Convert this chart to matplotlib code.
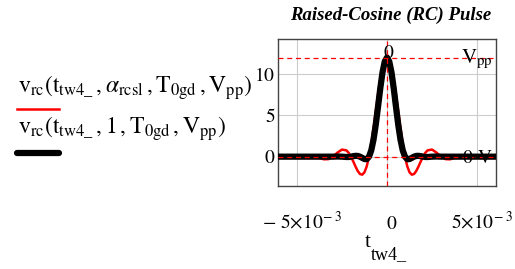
import matplotlib
matplotlib.use("Agg")
from matplotlib import pyplot as plt
from matplotlib.lines import Line2D
from matplotlib.transforms import ScaledTranslation
import numpy as np

plt.rcParams["mathtext.fontset"] = "stix"
plt.rcParams["font.family"] = ["Liberation Serif", "DejaVu Serif"]

# time axis in ms
t_ms = [-6.1, -5.5, -5, -4.75, -4.5, -4.25, -4, -3.75, -3.5, -3.25, -3, -2.75,
        -2.5, -2.25, -2.125, -2, -1.875, -1.75, -1.625, -1.5, -1.375, -1.25,
        -1.125, -1, -0.875, -0.75, -0.625, -0.5, -0.375, -0.25, -0.125,
        0,
        0.125, 0.25, 0.375, 0.5, 0.625, 0.75, 0.875, 1, 1.125, 1.25, 1.375,
        1.5, 1.625, 1.75, 1.875, 2, 2.125, 2.25, 2.5, 2.75, 3, 3.25, 3.5,
        3.75, 4, 4.25, 4.5, 4.75, 5, 5.5, 6.1]

# v_rc(t, alpha_rcsl, T0gd, Vpp) - red
v_rcsl = [0, 0.03, 0, 0.02, 0.06, 0.08, 0, -0.16, -0.32, -0.30, 0, 0.49,
          0.86, 0.76, 0.46, 0, -0.57, -1.18, -1.73, -2.10, -2.18, -1.89,
          -1.17, 0, 1.57, 3.43, 5.46, 7.48, 9.30, 10.75, 11.68,
          12,
          11.68, 10.75, 9.30, 7.48, 5.46, 3.43, 1.57, 0, -1.17, -1.89, -2.18,
          -2.10, -1.73, -1.18, -0.57, 0, 0.46, 0.76, 0.86, 0.49, 0, -0.30,
          -0.32, -0.16, 0, 0.08, 0.06, 0.02, 0, 0.03, 0]

# v_rc(t, 1, T0gd, Vpp) - black
v_one = [0, 0, 0, 0, 0, 0, 0, 0, 0, 0, 0, 0.02,
         0, -0.04, -0.04, 0, 0.06, 0.10, 0.09, 0, -0.15, -0.29,
         -0.30, 0, 0.75, 2.04, 3.84, 6.00, 8.23, 10.19, 11.52,
         12,
         11.52, 10.19, 8.23, 6.00, 3.84, 2.04, 0.75, 0, -0.30, -0.29, -0.15,
         0, 0.09, 0.10, 0.06, 0, -0.04, -0.04, 0, 0.02, 0, 0,
         0, 0, 0, 0, 0, 0, 0, 0, 0]

v_pp = 12
x_ticks = [-5e-3, 0, 5e-3]
x_tick_labels = [r"$-\ 5{\times}10^{-\ 3}$", r"$0$", r"$5{\times}10^{-\ 3}$"]
y_ticks = [0, 5, 10]

W, H = 515, 269


def px(x, y):
    return x / W, 1 - y / H


t = np.array(t_ms) * 1e-3

fig = plt.figure(figsize=(W / 100, H / 100), dpi=100)
ax = fig.add_axes([278 / W, 1 - 186 / H, 218 / W, 147.5 / H])

ax.plot(t, v_rcsl, color="red", lw=1.8, zorder=3)
ax.plot(t, v_one, color="black", lw=4.5, zorder=4, solid_capstyle="butt")

# markers
mk = dict(color="red", lw=0.9, ls=(0, (4, 3)), zorder=5)
ax.axhline(v_pp, **mk)
ax.axhline(0, **mk)
ax.axvline(0, **mk)

ax.text(0.12e-3, 12.5, "$0$", fontsize=14, ha="center", va="center", zorder=6)
ax.text(5.85e-3, 11.35, r"$\mathrm{V}_{\mathrm{pp}}$", fontsize=15,
        ha="right", va="baseline", zorder=6)
ax.text(5.85e-3, -0.77, r"$0{\cdot}\mathrm{V}$", fontsize=14,
        ha="right", va="baseline", zorder=6)

ax.set_xlim(-6.05e-3, 6.05e-3)
ax.set_ylim(-3.55, 14.3)
ax.set_xticks(x_ticks)
ax.set_xticklabels(x_tick_labels)
ax.set_yticks(y_ticks)
ax.set_yticklabels([f"${v}$" for v in y_ticks])
ax.tick_params(length=0, labelsize=14)
ax.tick_params(axis="x", pad=31)
ax.tick_params(axis="y", pad=2)
shift = ScaledTranslation(5 / 100, 0, fig.dpi_scale_trans)
for lbl in ax.get_xticklabels():
    lbl.set_verticalalignment("baseline")
    lbl.set_transform(lbl.get_transform() + shift)
ax.grid(True, color="#cccccc", lw=0.8, zorder=0)
for s in ax.spines.values():
    s.set_color("#444444")
    s.set_linewidth(1.0)

fig.text(*px(391, 20), "Raised-Cosine (RC) Pulse", fontsize=13.5,
         fontweight="bold", fontstyle="italic", ha="center", va="baseline")
# x label t_tw4_ with a Mathcad-style low subscript
fig.text(*px(365, 247), "t", fontsize=15, ha="left", va="baseline")
fig.text(*px(371, 259), "tw4_", fontsize=13, ha="left", va="baseline")

# legend on the left
fig.text(*px(18, 93),
         r"$\mathrm{v}_{\mathrm{rc}}\left(\mathrm{t}_{\mathrm{tw4\_}}\,,"
         r"\alpha_{\mathrm{rcsl}}\,,\mathrm{T}_{\mathrm{0gd}}\,,"
         r"\mathrm{V}_{\mathrm{pp}}\right)$",
         fontsize=17, ha="left", va="baseline")
fig.text(*px(18, 134),
         r"$\mathrm{v}_{\mathrm{rc}}\left(\mathrm{t}_{\mathrm{tw4\_}}\,,"
         r"1\,,\mathrm{T}_{\mathrm{0gd}}\,,"
         r"\mathrm{V}_{\mathrm{pp}}\right)$",
         fontsize=17, ha="left", va="baseline")
x0, x1 = 17 / W, 59 / W
fig.add_artist(Line2D([x0, x1], [1 - 109 / H] * 2, color="red", lw=1.8))
fig.add_artist(Line2D([x0, x1], [1 - 153 / H] * 2, color="black", lw=4.5,
                      solid_capstyle="round"))

fig.savefig("out.png", dpi=100)
